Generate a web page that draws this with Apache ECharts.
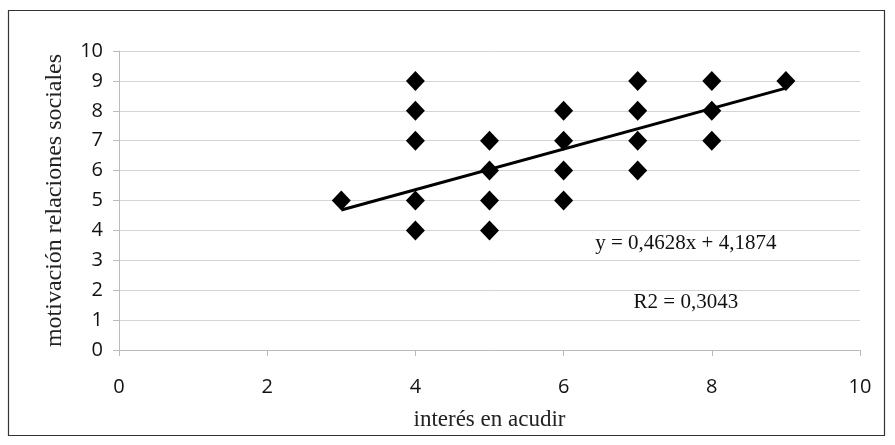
<!DOCTYPE html>
<html><head><meta charset="utf-8">
<script src="https://cdn.jsdelivr.net/npm/echarts@6/dist/echarts.min.js"></script>
<style>html,body{margin:0;padding:0;background:#fff}#c{width:895px;height:445px}</style>
</head><body><div id="c"></div>
<script>
// data
const xValues = [3,4,4,4,4,4,5,5,5,5,6,6,6,6,7,7,7,7,8,8,8,9];
const yValues = [5,4,5,7,8,9,4,5,6,7,5,6,7,8,6,7,8,9,7,8,9,9];
const trendX = [3, 9];
const trendY = [4.68, 8.76];
const equationText = 'y = 0,4628x + 4,1874';
const r2Text = 'R2 = 0,3043';
const xTitle = 'interés en acudir';
const yTitle = 'motivación relaciones sociales';

const points = xValues.map((x,i)=>[x,yValues[i]]);
const trend = trendX.map((x,i)=>[x,trendY[i]]);

const chart = echarts.init(document.getElementById('c'));
const sans = '"Open Sans", "Liberation Sans", sans-serif';
const serif = '"Liberation Serif", "DejaVu Serif", serif';
chart.setOption({
  animation:false,
  grid:{left:119,right:35,top:51,bottom:95},
  xAxis:{type:'value',min:0,max:10,interval:2,
    name:xTitle,nameLocation:'middle',nameGap:58,
    nameTextStyle:{fontFamily:serif,fontSize:23,color:'#222'},
    axisLine:{show:true,lineStyle:{color:'#bbb'}},
    axisTick:{show:true,length:6,lineStyle:{color:'#bbb'}},
    axisLabel:{fontFamily:sans,fontSize:20,color:'#111',margin:27},
    splitLine:{show:false}},
  yAxis:{type:'value',min:0,max:10,interval:1,
    name:yTitle,nameLocation:'middle',nameGap:52,
    nameTextStyle:{fontFamily:serif,fontSize:24,color:'#222'},
    axisLine:{show:true,lineStyle:{color:'#bbb'}},
    axisTick:{show:true,length:6,lineStyle:{color:'#bbb'}},
    axisLabel:{fontFamily:sans,fontSize:20,color:'#111',margin:16},
    splitLine:{show:true,lineStyle:{color:'#d4d4d4',width:1}}},
  series:[
    {type:'scatter',data:points,symbol:'diamond',symbolSize:[19,20],
     itemStyle:{color:'#000',opacity:1},z:3},
    {type:'line',data:trend,symbol:'none',lineStyle:{color:'#000',width:3},z:4},
  ]
});
const p1 = chart.convertToPixel({gridIndex:0},[7.65,3.55]);
const p2 = chart.convertToPixel({gridIndex:0},[7.65,1.6]);
chart.setOption({graphic:[
  {type:'rect',shape:{x:8.5,y:10.5,width:876,height:425},style:{fill:'none',stroke:'#333',lineWidth:1.2},silent:true,z:-1},
  {type:'text',x:p1[0],y:p1[1],style:{text:equationText,fontFamily:serif,fontSize:21,fill:'#111',textAlign:'center',textVerticalAlign:'middle'}},
  {type:'text',x:p2[0],y:p2[1],style:{text:r2Text,fontFamily:serif,fontSize:21,fill:'#111',textAlign:'center',textVerticalAlign:'middle'}}
]});
</script></body></html>
